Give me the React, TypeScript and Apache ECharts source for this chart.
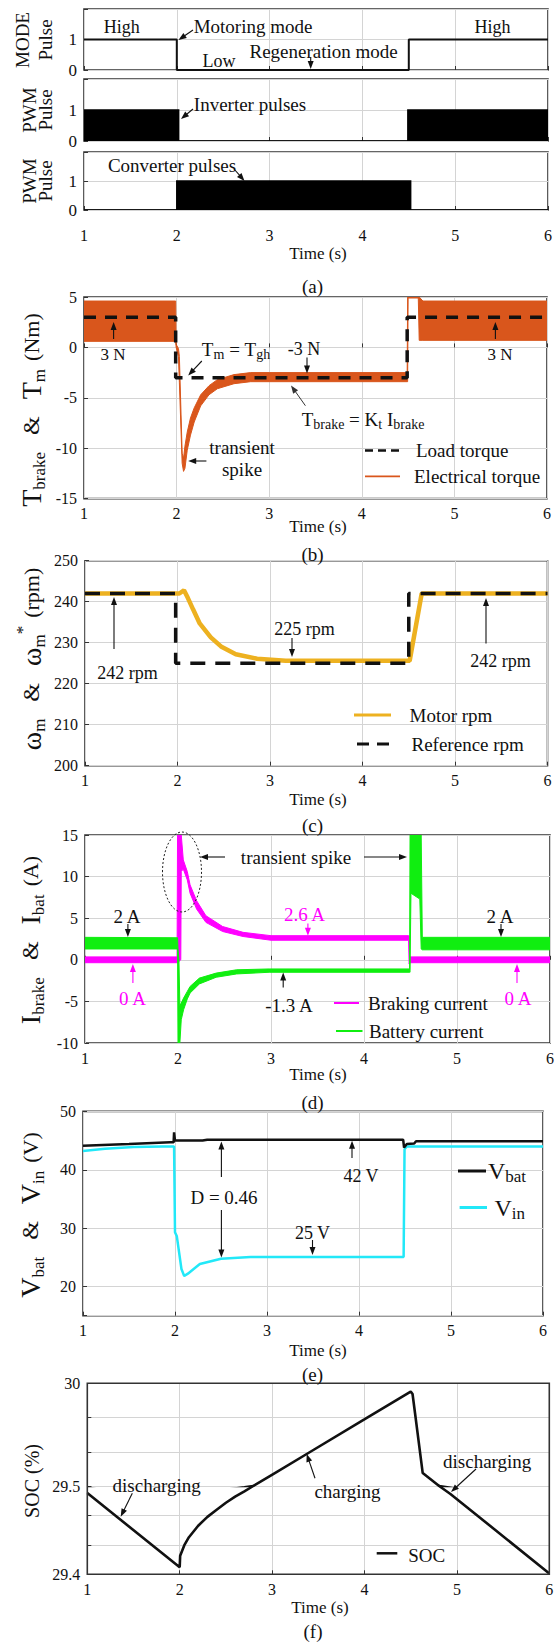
import React, { useEffect, useRef } from 'react';
import * as echarts from 'echarts';

const SERIF = 'Liberation Serif, serif';

// ---------- shared time axis ----------
const timeTicks = [1, 2, 3, 4, 5, 6];

// ---------- (a) mode signal and gate pulses ----------
const modeT = [1, 2, 2, 4.5, 4.5, 6];
const modeV = [1, 1, 0, 0, 1, 1];
const inverterT = [1, 2.02, 2.02, 4.49, 4.49, 6];
const inverterLo = [0, 0, 0, 0, 0, 0];
const inverterHi = [1, 1, 0, 0, 1, 1];
const converterT = [1, 2, 2, 4.52, 4.52, 6];
const converterLo = [0, 0, 0, 0, 0, 0];
const converterHi = [0, 0, 1, 1, 0, 0];

// ---------- (b) torque ----------
const torqueT = [1, 1.99, 1.995, 2.02, 2.03, 2.06, 2.075, 2.09, 2.115, 2.15, 2.19, 2.26, 2.35, 2.44, 2.62, 2.8, 3.0, 4.49, 4.495, 4.5, 4.61, 4.62, 4.66, 6];
const torqueHi = [4.6, 4.6, 0.3, -0.1, -0.9, -10.5, -11.0, -9.8, -8.4, -7.0, -6.0, -4.7, -3.8, -3.2, -2.7, -2.5, -2.5, -2.5, 5, 5, 5, 5, 4.6, 4.6];
const torqueLo = [0.6, 0.6, 0.0, -0.9, -3.5, -11.5, -12.3, -12.0, -10.2, -8.7, -7.4, -5.8, -4.7, -4.1, -3.6, -3.4, -3.4, -3.4, -3.4, 4.9, 4.9, 0.7, 0.7, 0.7];
const loadT = [1, 1.99, 1.99, 4.49, 4.49, 6];
const loadV = [3, 3, -3, -3, 3, 3];

// ---------- (c) speed ----------
const motorT = [1, 2.02, 2.07, 2.11, 2.167, 2.24, 2.36, 2.47, 2.63, 2.86, 3.17, 4.51, 4.64, 6];
const motorV = [242, 242, 242.8, 241.0, 238.2, 234.7, 231.3, 229.1, 227.2, 226.1, 225.6, 225.6, 242, 242];
const refT = [1, 1.98, 1.98, 4.5, 4.5, 6];
const refV = [242, 242, 225, 225, 242, 242];

// ---------- (d) currents ----------
const brakeT = [1, 1.99, 1.995, 2.03, 2.035, 2.057, 2.1, 2.13, 2.2, 2.3, 2.48, 2.7, 3.0, 4.48, 4.485, 4.49, 6];
const brakeHi = [0.35, 0.35, 15, 15, 15, 12.0, 10.6, 9.0, 7.1, 5.3, 4.0, 3.3, 2.9, 2.9, 2.9, 0.35, 0.35];
const brakeLo = [-0.35, -0.35, -0.35, 0, 10.6, 10.9, 9.6, 8.0, 6.1, 4.5, 3.4, 2.8, 2.35, 2.35, -0.5, -0.35, -0.35];
const batT = [1, 1.995, 2.0, 2.01, 2.02, 2.035, 2.06, 2.1, 2.13, 2.23, 2.41, 2.63, 2.98, 4.49, 4.495, 4.505, 4.6, 4.615, 4.627, 6];
const batHi = [2.7, 2.65, 1.3, 0, -5.5, -5.2, -4.6, -3.8, -3.2, -2.2, -1.6, -1.2, -1.1, -1.1, 15, 15, 15, 15, 2.7, 2.7];
const batLo = [1.3, 1.3, -10, -10, -10, -7.2, -6.0, -4.7, -4.0, -2.9, -2.1, -1.7, -1.5, -1.5, -1.5, 8.0, 7.3, 1.3, 1.2, 1.2];

// ---------- (e) voltages ----------
const vbatT = [1, 1.5, 1.95, 1.985, 1.99, 2.0, 2.3, 2.35, 4.48, 4.49, 4.52, 4.6, 4.62, 6];
const vbatV = [44.1, 44.4, 44.7, 44.7, 46.4, 45.0, 45.0, 45.15, 45.15, 43.8, 44.4, 44.5, 44.9, 44.9];
const vinT = [1, 1.24, 1.55, 1.86, 1.99, 2.0, 2.02, 2.07, 2.1, 2.14, 2.27, 2.5, 2.82, 4.485, 4.495, 4.52, 6];
const vinV = [43.2, 43.6, 43.9, 44.0, 44.0, 29.3, 28.6, 23.0, 21.8, 22.2, 23.85, 24.75, 25.05, 25.05, 43.5, 44.0, 44.0];

// ---------- (f) state of charge ----------
const socT = [1, 2.0, 2.005, 2.05, 2.1, 2.2, 2.3, 2.4, 2.5, 2.6, 2.7, 2.796, 3.012, 3.379, 3.998, 4.5, 4.52, 4.547, 4.63, 4.808, 4.93, 6];
const socV = [29.492, 29.408, 29.421, 29.433, 29.442, 29.455, 29.465, 29.473, 29.481, 29.488, 29.494, 29.5, 29.558, 29.657, 29.824, 29.96, 29.948, 29.854, 29.563, 29.5, 29.491, 29.401];
const socTicks = [29.4, 29.5, 30];

// ---------- layout ----------
const GRID_KEYS = ['a1', 'a2', 'a3', 'b', 'c', 'd', 'e', 'fU', 'fL'];
const BOX: Record<string, { left: number; top: number; width: number; height: number }> = {
  a1: { left: 84, top: 9, width: 464, height: 61 },
  a2: { left: 84, top: 79, width: 464, height: 62 },
  a3: { left: 84, top: 152, width: 464, height: 58 },
  b: { left: 84, top: 297, width: 463, height: 201.6 },
  c: { left: 85, top: 560.7, width: 462.5, height: 205 },
  d: { left: 85, top: 835, width: 465, height: 208 },
  e: { left: 83, top: 1111.4, width: 460, height: 204.3 },
  fU: { left: 87.3, top: 1383.3, width: 462, height: 102.7 },
  fL: { left: 87.3, top: 1486, width: 462, height: 88.3 },
};
const idx = (k: string) => GRID_KEYS.indexOf(k);

const INK = '#111';
const GRIDLINE = '#d4d4d4';
const FRAME = '#333';

const pairs = (xs: number[], ys: number[]) => xs.map((x, i) => [x, ys[i]]);
const near = (a: number, b: number) => Math.abs(a - b) < 1e-6;

function lineSeries(name: string, k: string, ts: number[], vs: number[], color: string, width: number, dash?: number[]) {
  return {
    type: 'line', name, xAxisIndex: idx(k), yAxisIndex: idx(k), data: pairs(ts, vs),
    showSymbol: false, symbol: 'none', clip: true, silent: true,
    lineStyle: { color, width, type: dash || 'solid', cap: 'butt' }, itemStyle: { color },
  };
}

// filled envelope between a lower and an upper trace (PWM ripple bands)
function bandSeries(name: string, k: string, ts: number[], lo: number[], hi: number[], color: string, edge: number) {
  return {
    type: 'custom', name, xAxisIndex: idx(k), yAxisIndex: idx(k), clip: true, silent: true,
    data: [[ts[0], lo[0]]],
    renderItem: (_p: any, api: any) => {
      const pts: number[][] = [];
      for (let i = 0; i < ts.length; i++) pts.push(api.coord([ts[i], hi[i]]));
      for (let i = ts.length - 1; i >= 0; i--) pts.push(api.coord([ts[i], lo[i]]));
      return { type: 'polygon', shape: { points: pts }, style: { fill: color, stroke: color, lineWidth: edge } };
    },
  };
}

const tickLabel = { fontFamily: SERIF, fontSize: 16, color: INK, margin: 7 };

function xAxis(k: string) {
  const labelled = ['a3', 'b', 'c', 'd', 'e', 'fL'].includes(k);
  return {
    type: 'value', gridIndex: idx(k), min: timeTicks[0], max: timeTicks[timeTicks.length - 1], interval: 1,
    axisLine: { show: false },
    axisTick: { show: k !== 'fU', inside: true, length: 4, lineStyle: { color: FRAME } },
    axisLabel: { ...tickLabel, show: labelled, margin: k === 'a3' ? 17 : 7 },
    splitLine: { show: true, lineStyle: { color: GRIDLINE, width: 1 } },
  };
}

function yAxis(k: string, extra: any) {
  return {
    type: 'value', gridIndex: idx(k),
    axisLine: { show: false },
    axisTick: { show: true, inside: true, length: 4, lineStyle: { color: FRAME } },
    splitLine: { show: true, lineStyle: { color: GRIDLINE, width: 1 } },
    ...extra,
    axisLabel: { ...tickLabel, ...(extra.axisLabel || {}) },
  };
}

// ---------- annotation helpers ----------
const txt = (x: number, y: number, text: string, size = 19, color = INK, align = 'center', rotation = 0) => ({
  type: 'text', x, y, z: 100, silent: true, rotation,
  style: { text, fill: color, fontFamily: SERIF, fontSize: size, align, verticalAlign: 'middle', textAlign: align, textVerticalAlign: 'middle' },
});

const richTxt = (x: number, y: number, text: string, rich: any, align = 'center', rotation = 0) => ({
  type: 'text', x, y, z: 100, silent: true, rotation,
  style: { text, rich, fill: INK, fontFamily: SERIF, fontSize: 19, align, verticalAlign: 'middle', textAlign: align, textVerticalAlign: 'middle' },
});

function arrow(x1: number, y1: number, x2: number, y2: number, color = INK, lw = 1.1, head = 8, half = 3) {
  const dx = x2 - x1, dy = y2 - y1;
  const len = Math.hypot(dx, dy);
  const ux = dx / len, uy = dy / len;
  const bx = x2 - ux * head, by = y2 - uy * head;
  const px = -uy * half, py = ux * half;
  return [
    { type: 'line', z: 100, silent: true, shape: { x1, y1, x2: bx + ux, y2: by + uy }, style: { stroke: color, lineWidth: lw } },
    { type: 'polygon', z: 100, silent: true, shape: { points: [[x2, y2], [bx + px, by + py], [bx - px, by - py]] }, style: { fill: color } },
  ];
}

const legendLine = (x1: number, x2: number, y: number, color: string, width: number, dash?: number[]) => ({
  type: 'line', z: 100, silent: true, shape: { x1, y1: y, x2, y2: y },
  style: { stroke: color, lineWidth: width, lineDash: dash || null },
});

// rich styles for axis titles with sub/superscripts
const big = (size: number) => ({ fontFamily: SERIF, fontSize: size, lineHeight: 34, fill: INK });
const sub = (size: number) => ({ fontFamily: SERIF, fontSize: size, lineHeight: 12, verticalAlign: 'bottom', fill: INK });
const TITLE_RICH = {
  m: big(28), s: sub(17), amp: big(24), u: big(22),
  sup: { fontFamily: SERIF, fontSize: 17, lineHeight: 12, verticalAlign: 'top', fill: INK },
  g: { width: 17, fontSize: 10, lineHeight: 34 },
  h: { width: 8, fontSize: 10, lineHeight: 34 },
};
const NOTE_RICH = {
  t: { fontFamily: SERIF, fontSize: 19, lineHeight: 24, fill: INK },
  s: { fontFamily: SERIF, fontSize: 14, lineHeight: 9, verticalAlign: 'bottom', fill: INK },
  v: { fontFamily: SERIF, fontSize: 24, lineHeight: 28, fill: INK },
  vs: { fontFamily: SERIF, fontSize: 17, lineHeight: 10, verticalAlign: 'bottom', fill: INK },
};
const R90 = Math.PI / 2;

function buildOption() {
  const grid = GRID_KEYS.map((k) => ({
    ...BOX[k], containLabel: false,
    show: !(k === 'fU' || k === 'fL'), borderColor: FRAME, borderWidth: 1.6, backgroundColor: 'transparent',
  }));

  const pulseY = { min: 0, max: 2, interval: 1, axisLabel: { fontSize: 17, formatter: (v: number) => (v === 2 ? '' : String(v)) } };
  const yAxes = [
    yAxis('a1', pulseY),
    yAxis('a2', pulseY),
    yAxis('a3', pulseY),
    yAxis('b', { min: -15, max: 5, interval: 5 }),
    yAxis('c', { min: 200, max: 250, interval: 10 }),
    yAxis('d', { min: -10, max: 15, interval: 5 }),
    yAxis('e', { min: 15, max: 50, minInterval: 10, maxInterval: 10, axisLabel: { formatter: (v: number) => (v === 15 ? '' : String(v)) } }),
    yAxis('fU', {
      min: socTicks[1], max: socTicks[2], interval: 1 / 6,
      axisLabel: { formatter: (v: number) => (near(v, socTicks[2]) ? '30' : near(v, socTicks[1]) ? '29.5' : '') },
    }),
    yAxis('fL', {
      min: socTicks[0], max: socTicks[1], interval: 1 / 30,
      axisLabel: { formatter: (v: number) => (near(v, socTicks[0]) ? '29.4' : '') },
    }),
  ];

  const series: any[] = [
    lineSeries('MODE', 'a1', modeT, modeV, INK, 2),
    bandSeries('Inverter pulses', 'a2', inverterT, inverterLo, inverterHi, '#000', 1.5),
    bandSeries('Converter pulses', 'a3', converterT, converterLo, converterHi, '#000', 1.5),
    bandSeries('Electrical torque', 'b', torqueT, torqueLo, torqueHi, '#D9561C', 1),
    lineSeries('Load torque', 'b', loadT, loadV, INK, 3.5, [12, 9]),
    lineSeries('Motor rpm', 'c', motorT, motorV, '#EDB120', 4.5),
    lineSeries('Reference rpm', 'c', refT, refV, INK, 3.5, [15, 10]),
    bandSeries('Braking current', 'd', brakeT, brakeLo, brakeHi, '#FF00FF', 1),
    bandSeries('Battery current', 'd', batT, batLo, batHi, '#10EE10', 1),
    lineSeries('Vin', 'e', vinT, vinV, '#22E8F8', 2.5),
    lineSeries('Vbat', 'e', vbatT, vbatV, INK, 2.5),
    lineSeries('SOC', 'fU', socT, socV, INK, 2.6),
    lineSeries('SOC', 'fL', socT, socV, INK, 2.6),
  ];

  const g: any[] = [];
  const push = (...els: any[]) => els.forEach((e) => (Array.isArray(e) ? g.push(...e) : g.push(e)));

  // frame around the two-part SOC plot
  push({ type: 'rect', z: 100, silent: true, shape: { x: BOX.fU.left, y: BOX.fU.top, width: BOX.fU.width, height: BOX.fU.height + BOX.fL.height }, style: { fill: 'none', stroke: FRAME, lineWidth: 1.6 } });

  // ---- (a) ----
  push(txt(22, 40, 'MODE', 19, INK, 'center', R90), txt(45.5, 40, 'Pulse', 19, INK, 'center', R90));
  push(txt(29.5, 110, 'PWM', 19, INK, 'center', R90), txt(45.5, 110, 'Pulse', 19, INK, 'center', R90));
  push(txt(29.5, 181, 'PWM', 19, INK, 'center', R90), txt(45.5, 181, 'Pulse', 19, INK, 'center', R90));
  push(txt(121.7, 27, 'High', 18), txt(492.5, 27, 'High', 18));
  push(txt(253, 26, 'Motoring mode', 19), arrow(193, 30, 178.5, 40));
  push(txt(219, 61, 'Low', 18), txt(323.6, 51, 'Regeneration mode', 19), arrow(310.7, 57, 310.7, 69));
  push(txt(250, 104, 'Inverter pulses', 19), arrow(193, 109, 181, 119));
  push(txt(172, 165, 'Converter pulses', 19), arrow(234, 169, 244.5, 181));
  push(txt(318, 253, 'Time (s)', 17), txt(312.5, 286, '(a)', 19));

  // ---- (b) ----
  push(richTxt(31, 410, '{m|T}{s|brake}{g| }{amp|&}{g| }{m|T}{s|m}{h| }{u|(Nm)}', TITLE_RICH, 'center', R90));
  push(txt(113, 354, '3 N', 17), arrow(113.6, 339, 113.6, 322));
  push(txt(500, 354, '3 N', 17), arrow(495.4, 339, 495.4, 322));
  push(richTxt(236, 349, '{t|T}{s|m}{t| = T}{s|gh}', NOTE_RICH), arrow(201.8, 361, 188.2, 375.4));
  push(txt(304, 349, '-3 N', 18), arrow(307, 357.5, 307, 373.6));
  push(richTxt(363, 419, '{t|T}{s|brake}{t| = K}{s|t}{t| I}{s|brake}', NOTE_RICH), arrow(305.4, 405.7, 291, 385.4, '#333', 1));
  push(txt(242, 447, 'transient', 19), txt(242, 469.3, 'spike', 19), arrow(206.4, 461, 188.2, 461));
  push(legendLine(365, 399, 450.4, INK, 2.5, [8, 5]), txt(416, 450.4, 'Load torque', 19, INK, 'left'));
  push(legendLine(365, 400, 476.4, '#D9561C', 1.6), txt(414, 476.4, 'Electrical torque', 19, INK, 'left'));
  push(txt(318, 526, 'Time (s)', 17), txt(312.5, 554, '(b)', 19));

  // ---- (c) ----
  push(richTxt(31, 659, '{m|ω}{s|m}{g| }{amp|&}{g| }{m|ω}{s|m}{sup|*}{h| }{u|(rpm)}', TITLE_RICH, 'center', R90));
  push(txt(127.5, 673, '242 rpm', 18), arrow(114, 649, 114, 597));
  push(txt(304.5, 629, '225 rpm', 18), arrow(292, 638, 292, 657));
  push(txt(500.5, 661, '242 rpm', 18), arrow(486, 643.6, 486, 598));
  push(legendLine(354, 391, 715, '#EDB120', 3), txt(409.5, 715, 'Motor rpm', 19, INK, 'left'));
  push(legendLine(357, 389, 744, INK, 3, [12, 8]), txt(411.5, 744, 'Reference rpm', 19, INK, 'left'));
  push(txt(318, 799, 'Time (s)', 17), txt(312.5, 825, '(c)', 19));

  // ---- (d) ----
  push(richTxt(30, 940, '{m|I}{s|brake}{g| }{amp|&}{g| }{m|I}{s|bat}{h| }{u|(A)}', TITLE_RICH, 'center', R90));
  push({ type: 'ellipse', z: 100, silent: true, shape: { cx: 182, cy: 872, rx: 19.5, ry: 40 }, style: { fill: 'none', stroke: '#222', lineWidth: 1, lineDash: [2, 2] } });
  push(txt(296, 857, 'transient spike', 19), arrow(225, 857, 200, 857), arrow(364, 857, 407, 857));
  push(txt(127, 916.4, '2 A', 19), arrow(127.9, 924, 127.9, 937));
  push(txt(132.5, 998, '0 A', 19, '#FF00FF'), arrow(132.9, 983, 132.9, 964, '#FF00FF'));
  push(txt(304.5, 914.3, '2.6 A', 19, '#FF00FF'), arrow(307.9, 923.6, 307.9, 935.7, '#FF00FF'));
  push(txt(289, 1005.7, '-1.3 A', 19), arrow(283.2, 987.5, 283.2, 972.5));
  push(txt(500, 916.4, '2 A', 19), arrow(501, 924, 501, 937));
  push(txt(518, 998, '0 A', 19, '#FF00FF'), arrow(517, 983, 517, 964, '#FF00FF'));
  push(legendLine(334, 359, 1003, '#FF00FF', 2), txt(368, 1003, 'Braking current', 19, INK, 'left'));
  push(legendLine(336, 362.5, 1031, '#10EE10', 2), txt(369, 1031, 'Battery current', 19, INK, 'left'));
  push(txt(318, 1074, 'Time (s)', 17), txt(312.5, 1102, '(d)', 19));

  // ---- (e) ----
  push(richTxt(30, 1215, '{m|V}{s|bat}{g| }{amp|&}{g| }{m|V}{s|in}{h| }{u|(V)}', TITLE_RICH, 'center', R90));
  push(txt(224, 1197, 'D = 0.46', 19), arrow(221.4, 1177, 221.4, 1141.4), arrow(221.4, 1210, 221.4, 1257.5));
  push(txt(361, 1175.7, '42 V', 18), arrow(352, 1158, 352, 1140.7));
  push(txt(312.5, 1233, '25 V', 18), arrow(312.5, 1240, 312.5, 1255));
  push(legendLine(458, 486, 1171, INK, 3), richTxt(488, 1171, '{v|V}{vs|bat}', NOTE_RICH, 'left'));
  push(legendLine(459.6, 487, 1207.5, '#22E8F8', 3), richTxt(494.5, 1207.5, '{v|V}{vs|in}', NOTE_RICH, 'left'));
  push(txt(318, 1350, 'Time (s)', 17), txt(312.5, 1374, '(e)', 19));

  // ---- (f) ----
  push(txt(32, 1481, 'SOC (%)', 20, INK, 'center', R90));
  push(txt(156.7, 1485, 'discharging', 19), arrow(132.3, 1493.3, 120.7, 1516.7));
  push(txt(347.5, 1491.7, 'charging', 19), arrow(315, 1478.3, 306.7, 1454));
  push(txt(487.2, 1461.7, 'discharging', 19), arrow(476, 1469, 451, 1492));
  push(legendLine(376.7, 397.3, 1553.3, INK, 2.5), txt(408.3, 1555, 'SOC', 19, INK, 'left'));
  push(txt(320, 1607, 'Time (s)', 17), txt(313, 1631, '(f)', 19));

  return {
    animation: false,
    backgroundColor: '#fff',
    textStyle: { fontFamily: SERIF },
    grid,
    xAxis: GRID_KEYS.map(xAxis),
    yAxis: yAxes,
    series,
    graphic: { elements: g },
  };
}

export default function App() {
  const ref = useRef<HTMLDivElement>(null);
  useEffect(() => {
    if (!ref.current) return;
    const chart = echarts.init(ref.current, undefined, { renderer: 'svg' });
    chart.setOption(buildOption() as any);
    return () => chart.dispose();
  }, []);
  return <div ref={ref} style={{ position: 'absolute', left: 0, top: 0, width: 560, height: 1645, background: '#fff' }} />;
}
